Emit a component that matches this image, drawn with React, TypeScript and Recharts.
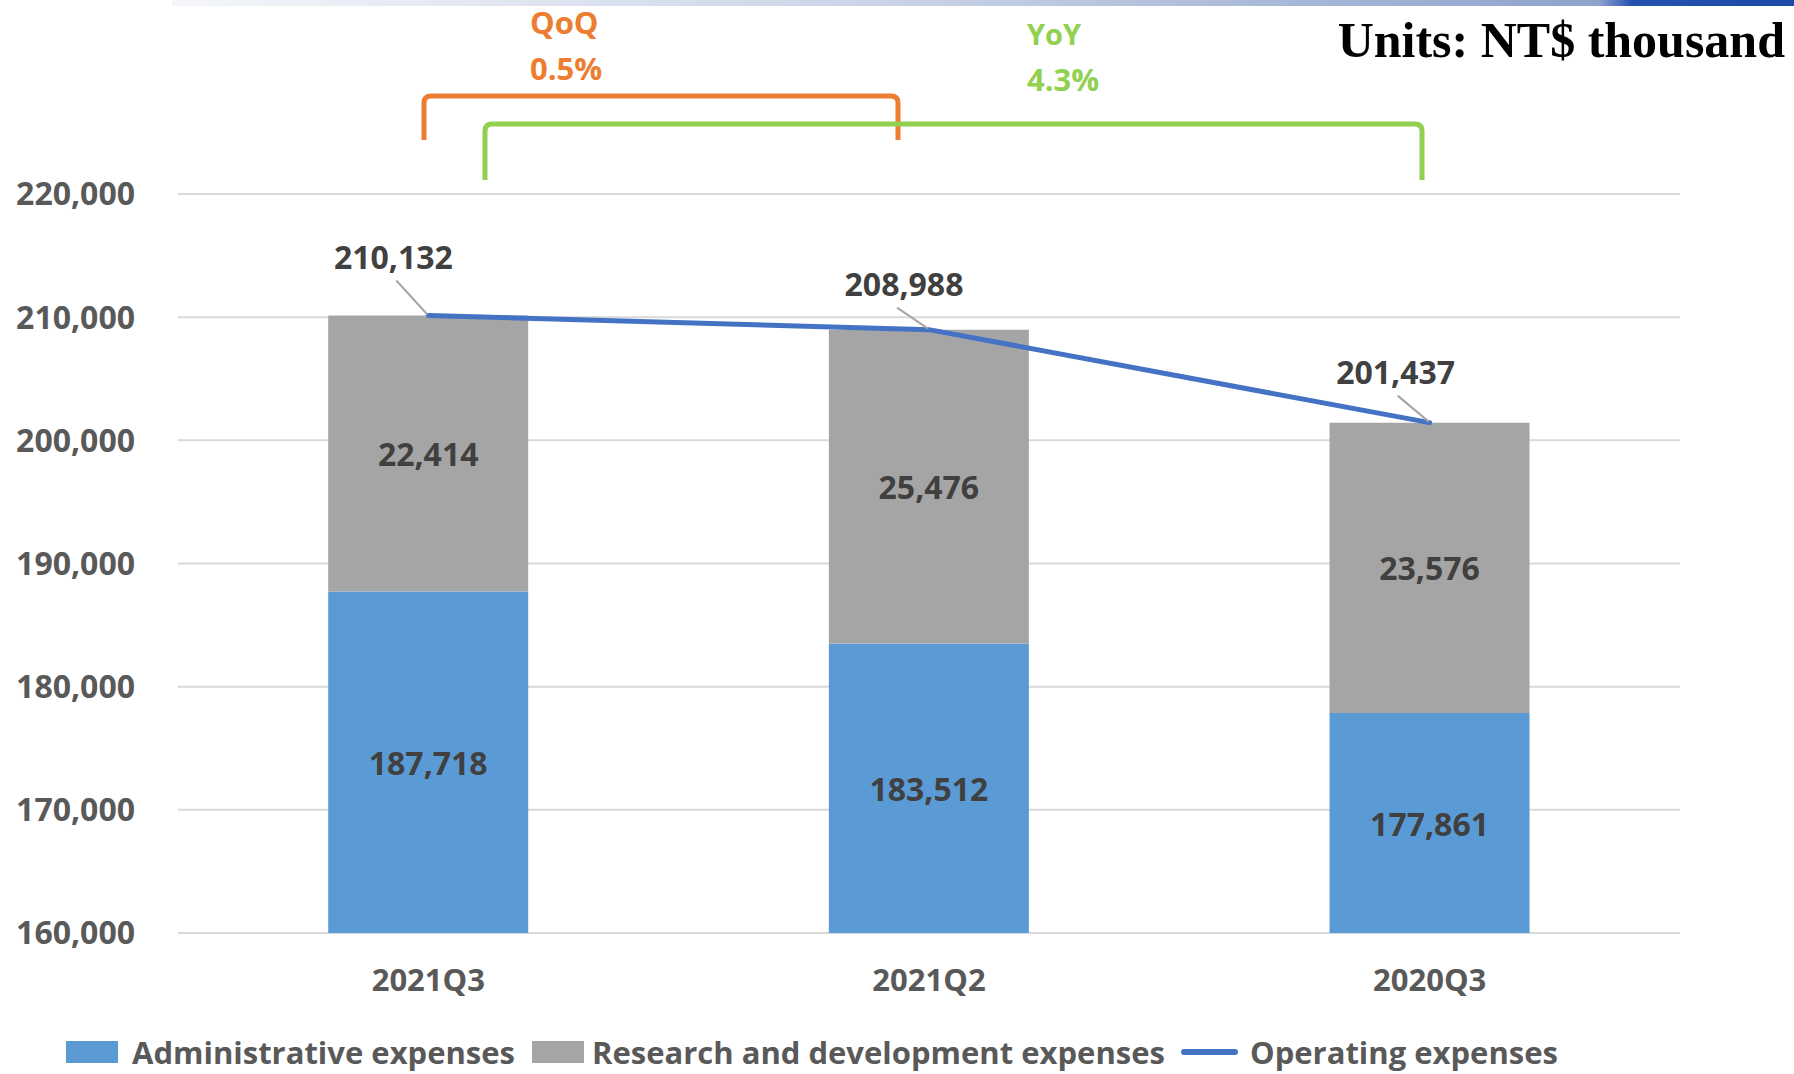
import { ComposedChart, Bar, Line, XAxis, YAxis, CartesianGrid, LabelList } from 'recharts';

const quarters = ['2021Q3', '2021Q2', '2020Q3'];
const adminExpenses = [187718, 183512, 177861];
const rdExpenses = [22414, 25476, 23576];
const operatingExpenses = [210132, 208988, 201437];
const yTicks = [160000, 170000, 180000, 190000, 200000, 210000, 220000];

// where each line label sits, relative to its point (manual placement in the original)
const lineLabelOffsets = [
    { dx: -35, dy: -59 },
    { dx: -25, dy: -46 },
    { dx: -34, dy: -51 },
];

const data = quarters.map((name, i) => ({
    name,
    admin: adminExpenses[i],
    rd: rdExpenses[i],
    total: operatingExpenses[i],
}));

const W = 1794;
const H = 1074;
const MARGIN = { top: 194, right: 114, bottom: 61, left: 0 };
const X_AXIS_H = 80;
const PLOT_BOTTOM = H - MARGIN.bottom - X_AXIS_H;

const FONT = '"Open Sans", Lato, sans-serif';
const AXIS_GREY = '#595959';
const LABEL_GREY = '#404040';
const ADMIN_BLUE = '#5B9BD5';
const RD_GREY = '#A5A5A5';
const LINE_BLUE = '#4472C4';
const ORANGE = '#ED7D31';
const GREEN = '#92D050';

const fmt = (v: number) => String(v).replace(/\B(?=(\d{3})+(?!\d))/g, ',');
const pct = (a: number, b: number) => ((a / b - 1) * 100).toFixed(1) + '%';

const qoq = pct(operatingExpenses[0], operatingExpenses[1]);
const yoy = pct(operatingExpenses[0], operatingExpenses[2]);

// centre the label on the part of the bar that is visible above the axis floor
const SegmentLabel = (props: any) => {
    const { x, y, width, height, value } = props;
    const bottom = Math.min(y + height, PLOT_BOTTOM);
    return (
        <text
            x={x + width / 2}
            y={(y + bottom) / 2}
            textAnchor="middle"
            dominantBaseline="central"
            fill={LABEL_GREY}
            fontFamily={FONT}
            fontWeight={700}
            fontSize={32}
        >
            {fmt(value)}
        </text>
    );
};

const TotalLabel = (props: any) => {
    const { x, y, value, index } = props;
    const off = lineLabelOffsets[index] || { dx: -30, dy: -52 };
    const cx = x + off.dx;
    const cy = y + off.dy;
    return (
        <g>
            <line x1={x - 32} y1={cy + 24} x2={x - 1} y2={y - 1} stroke="#A6A6A6" strokeWidth={2} />
            <text
                x={cx}
                y={cy}
                textAnchor="middle"
                dominantBaseline="central"
                fill={LABEL_GREY}
                fontFamily={FONT}
                fontWeight={700}
                fontSize={32}
            >
                {fmt(value)}
            </text>
        </g>
    );
};

const legendItems = [
    { label: 'Administrative expenses', color: ADMIN_BLUE, type: 'rect', left: 66, gap: 14 },
    { label: 'Research and development expenses', color: RD_GREY, type: 'rect', left: 532, gap: 8 },
    { label: 'Operating expenses', color: LINE_BLUE, type: 'line', left: 1181, gap: 12 },
];

export default function App() {
    return (
        <div style={{ position: 'absolute', left: 0, top: 0, width: W, height: H, background: '#fff', overflow: 'hidden', fontFamily: FONT }}>
            <ComposedChart width={W} height={H} data={data} margin={MARGIN} barCategoryGap="30%">
                <CartesianGrid horizontal vertical={false} stroke="#D9D9D9" strokeWidth={2} />
                <XAxis
                    dataKey="name"
                    height={X_AXIS_H}
                    axisLine={false}
                    tickLine={false}
                    tickSize={0}
                    tickMargin={36}
                    tick={{ fill: AXIS_GREY, fontSize: 31, fontWeight: 700, fontFamily: FONT }}
                />
                <YAxis
                    width={178}
                    domain={[160000, 220000]}
                    ticks={yTicks}
                    allowDataOverflow
                    axisLine={false}
                    tickLine={false}
                    tickSize={0}
                    tickMargin={43}
                    tickFormatter={fmt}
                    tick={{ fill: AXIS_GREY, fontSize: 32, fontWeight: 700, fontFamily: FONT }}
                />
                <Bar dataKey="admin" stackId="a" fill={ADMIN_BLUE} isAnimationActive={false}>
                    <LabelList dataKey="admin" content={SegmentLabel} />
                </Bar>
                <Bar dataKey="rd" stackId="a" fill={RD_GREY} isAnimationActive={false}>
                    <LabelList dataKey="rd" content={SegmentLabel} />
                </Bar>
                <Line
                    type="linear"
                    dataKey="total"
                    stroke={LINE_BLUE}
                    strokeWidth={5}
                    strokeLinecap="round"
                    dot={false}
                    activeDot={false}
                    isAnimationActive={false}
                >
                    <LabelList dataKey="total" content={TotalLabel} />
                </Line>
            </ComposedChart>

            <svg width={W} height={H} style={{ position: 'absolute', left: 0, top: 0, pointerEvents: 'none' }}>
                <defs>
                    <linearGradient id="topStrip" x1="0" y1="0" x2="1" y2="0">
                        <stop offset="0%" stopColor="#F4F6FA" />
                        <stop offset="45%" stopColor="#C9D3E6" />
                        <stop offset="88%" stopColor="#8EA2CC" />
                        <stop offset="90%" stopColor="#2452B0" />
                        <stop offset="100%" stopColor="#1D4AA8" />
                    </linearGradient>
                </defs>
                <rect x={172} y={0} width={W - 172} height={6} fill="url(#topStrip)" />

                <path d="M424,140 L424,103 Q424,96 431,96 L891,96 Q898,96 898,103 L898,140" fill="none" stroke={ORANGE} strokeWidth={5} />
                <path d="M485,180 L485,131 Q485,124 492,124 L1415,124 Q1422,124 1422,131 L1422,180" fill="none" stroke={GREEN} strokeWidth={5} />

                <text x={530} y={34} fill={ORANGE} fontFamily={FONT} fontWeight={700} fontSize={31}>QoQ</text>
                <text x={530} y={80} fill={ORANGE} fontFamily={FONT} fontWeight={700} fontSize={31}>{qoq}</text>
                <text x={1027} y={45} fill={GREEN} fontFamily={FONT} fontWeight={700} fontSize={29}>YoY</text>
                <text x={1027} y={91} fill={GREEN} fontFamily={FONT} fontWeight={700} fontSize={31}>{yoy}</text>

                <text x={1785} y={57} textAnchor="end" fill="#000" fontFamily='"Liberation Serif", serif' fontWeight={700} fontSize={50}>
                    Units: NT$ thousand
                </text>
            </svg>

            {legendItems.map((it) => (
                <div key={it.label} style={{ position: 'absolute', left: it.left, top: 1034, height: 36, display: 'flex', alignItems: 'center' }}>
                    {it.type === 'rect' ? (
                        <div style={{ width: 52, height: 22, background: it.color }} />
                    ) : (
                        <div style={{ width: 57, height: 6, background: it.color, borderRadius: 3 }} />
                    )}
                    <span style={{ marginLeft: it.gap, color: AXIS_GREY, fontSize: 31, fontWeight: 700, lineHeight: '36px', whiteSpace: 'nowrap' }}>
                        {it.label}
                    </span>
                </div>
            ))}
        </div>
    );
}
